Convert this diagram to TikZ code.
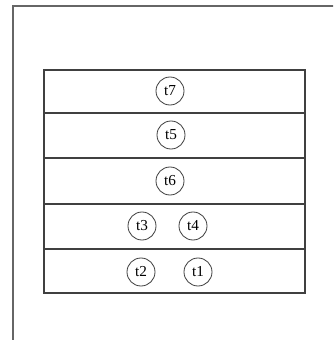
\documentclass[tikz,border=0pt]{standalone}
\usepackage{fontspec}
\setmainfont{Liberation Serif}
\usetikzlibrary{positioning}

\begin{document}
\begin{tikzpicture}[x=0.03cm, y=-0.03cm,
    thr/.style={draw=black!75, circle, line width=0.7pt, minimum size=0.84cm, inner sep=0pt, font=\fontsize{13}{15}\selectfont},
    row/.style={draw=black!75, line width=0.9pt}]
                % Page area
                \useasboundingbox (0,0) rectangle (333,340);
                \clip (0,0) rectangle (333,340);

                % Outer frame (runs off the page)
                \draw[draw=black!60, line width=1.1pt] (13,6) rectangle (360,370);

                % Rows
                \draw[row] (44,70) rectangle (305,113);
                \draw[row] (44,113) rectangle (305,158);
                \draw[row] (44,158) rectangle (305,204);
                \draw[row] (44,204) rectangle (305,249);
                \draw[row] (44,249) rectangle (305,293);

                % Threads
                \node[thr] (t7) at (170,91) {t7};
                \node[thr] (t5) at (171,135) {t5};
                \node[thr] (t6) at (170,181) {t6};
                \node[thr] (t3) at (142,226) {t3};
                \node[thr] (t4) at (193,226) {t4};
                \node[thr] (t2) at (141,272) {t2};
                \node[thr] (t1) at (198,272) {t1};
            \end{tikzpicture}
\end{document}
